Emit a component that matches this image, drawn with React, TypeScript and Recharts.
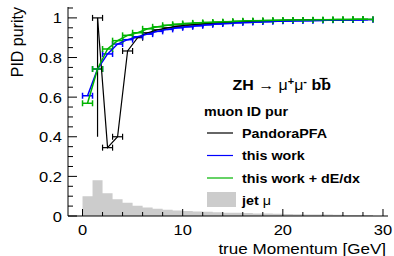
import { Area, ComposedChart, ErrorBar, Scatter, XAxis, YAxis } from "recharts";

const W = 394;
const H = 256;
const FONT = '"Liberation Sans", Arial, Helvetica, sans-serif';
const STRETCH = 1.1;

// jet muon spectrum (1 GeV bins, low edges)
const HIST_EDGES = [0, 1, 2, 3, 4, 5, 6, 7, 8, 9, 10, 11, 12, 13, 14, 15, 16, 17, 18, 19, 20, 21, 22, 23, 24, 25, 26, 27, 28, 29];
const HIST_VALUES = [
  0.1, 0.18, 0.115, 0.085, 0.067, 0.052, 0.043, 0.036, 0.031, 0.028, 0.025, 0.023, 0.021, 0.019, 0.017,
  0.016, 0.015, 0.013, 0.012, 0.011, 0.01, 0.009, 0.008, 0.0075, 0.007, 0.006, 0.0055, 0.005, 0.0045, 0,
];

const BIN_CENTERS = [
  0.5, 1.5, 2.5, 3.5, 4.5, 5.5, 6.5, 7.5, 8.5, 9.5, 10.5, 11.5, 12.5, 13.5, 14.5, 15.5, 16.5, 17.5, 18.5, 19.5,
  20.5, 21.5, 22.5, 23.5, 24.5, 25.5, 26.5, 27.5, 28.5,
];
const PANDORA = [
  null, 1.0, 0.345, 0.4, 0.833, 0.9, 0.925, 0.94, 0.95, 0.958, 0.964, 0.968, 0.972, 0.975, 0.978, 0.98, 0.982,
  0.984, 0.985, 0.986, 0.987, 0.988, 0.989, 0.99, 0.99, 0.991, 0.991, 0.992, 0.992,
];
const THIS_WORK = [
  0.607, 0.742, 0.818, 0.868, 0.89, 0.905, 0.918, 0.932, 0.942, 0.95, 0.955, 0.96, 0.965, 0.969, 0.972, 0.975,
  0.977, 0.979, 0.981, 0.983, 0.984, 0.985, 0.986, 0.987, 0.988, 0.989, 0.99, 0.99, 0.991,
];
const THIS_WORK_DEDX = [
  0.569, 0.742, 0.843, 0.885, 0.912, 0.925, 0.945, 0.955, 0.963, 0.968, 0.972, 0.975, 0.977, 0.979, 0.981, 0.983,
  0.985, 0.986, 0.987, 0.988, 0.989, 0.99, 0.99, 0.991, 0.991, 0.992, 0.992, 0.993, 0.993,
];
// PandoraPFA first filled bin: large downward error
const PANDORA_YERR = [{ x: 1.5, y: 1.0, ey: [0.6, 0] }];

const X_DOMAIN = [-1.45, 30.5];
const Y_DOMAIN = [0, 1.055];
const X_TICKS = [0, 2, 4, 6, 8, 10, 12, 14, 16, 18, 20, 22, 24, 26, 28, 30];
const Y_TICKS = [
  0, 0.05, 0.1, 0.15, 0.2, 0.25, 0.3, 0.35, 0.4, 0.45, 0.5, 0.55, 0.6, 0.65, 0.7, 0.75, 0.8, 0.85, 0.9, 0.95, 1,
  1.05,
];

const histRows = HIST_EDGES.map((x, i) => ({ x, y: HIST_VALUES[i] }));
const toRows = (vals: (number | null)[]) =>
  BIN_CENTERS.map((x, i) => ({ x, y: vals[i], ex: 0.5 })).filter((r) => r.y != null);

const isMajorX = (v: number) => v % 10 === 0;
const isMajorY = (v: number) => Math.abs(v * 5 - Math.round(v * 5)) < 1e-6;

function BottomTick({ x, y, payload }: any) {
  const major = isMajorX(payload.value);
  return (
    <g>
      <line x1={x} x2={x} y1={y} y2={y - (major ? 7 : 4)} stroke="#000" />
      {major && (
        <text transform={`translate(${x},${y + 19}) scale(${STRETCH},1)`} textAnchor="middle" fontSize={15} fill="#000">
          {payload.value}
        </text>
      )}
    </g>
  );
}

function TopTick({ x, y, payload }: any) {
  const major = isMajorX(payload.value);
  return <line x1={x} x2={x} y1={y} y2={y + (major ? 7 : 4)} stroke="#000" />;
}

function LeftTick({ x, y, payload }: any) {
  const major = isMajorY(payload.value);
  return (
    <g>
      <line x1={x} x2={x + (major ? 9 : 5)} y1={y} y2={y} stroke="#000" />
      {major && payload.value <= 1 && (
        <text transform={`translate(${x - 6},${y + 5.5}) scale(${STRETCH},1)`} textAnchor="end" fontSize={15} fill="#000">
          {payload.value}
        </text>
      )}
    </g>
  );
}

function RightTick({ x, y, payload }: any) {
  const major = isMajorY(payload.value);
  return <line x1={x} x2={x - (major ? 9 : 5)} y1={y} y2={y} stroke="#000" />;
}

const noShape = () => <g />;

const LEGEND = [
  { label: "PandoraPFA", color: "#000000" },
  { label: "this work", color: "#0000ff" },
  { label: "this work + dE/dx", color: "#00b400" },
];

export default function App() {
  return (
    <div style={{ position: "absolute", left: 0, top: 0, width: W, height: H, fontFamily: FONT, background: "#fff" }}>
      <ComposedChart width={W} height={H} data={histRows} margin={{ top: 7, right: 6, bottom: 0, left: 0 }}>
        <XAxis
          dataKey="x"
          type="number"
          domain={X_DOMAIN}
          ticks={X_TICKS}
          interval={0}
          allowDataOverflow
          height={40}
          tickLine={false}
          tickSize={0}
          tickMargin={0}
          axisLine={{ stroke: "#000" }}
          tick={(p: any) => <BottomTick {...p} />}
        />
        <XAxis
          xAxisId="t"
          orientation="top"
          type="number"
          domain={X_DOMAIN}
          ticks={X_TICKS}
          interval={0}
          allowDataOverflow
          height={0}
          tickLine={false}
          tickSize={0}
          tickMargin={0}
          axisLine={{ stroke: "#000" }}
          tick={(p: any) => <TopTick {...p} />}
        />
        <YAxis
          dataKey="y"
          type="number"
          domain={Y_DOMAIN}
          ticks={Y_TICKS}
          interval={0}
          allowDataOverflow
          width={68}
          tickLine={false}
          tickSize={0}
          tickMargin={0}
          axisLine={{ stroke: "#000" }}
          tick={(p: any) => <LeftTick {...p} />}
        />
        <YAxis
          yAxisId="r"
          orientation="right"
          type="number"
          domain={Y_DOMAIN}
          ticks={Y_TICKS}
          interval={0}
          allowDataOverflow
          width={0}
          tickLine={false}
          tickSize={0}
          tickMargin={0}
          axisLine={{ stroke: "#000" }}
          tick={(p: any) => <RightTick {...p} />}
        />
        <Area
          dataKey="y"
          type="stepAfter"
          fill="#cccccc"
          fillOpacity={1}
          stroke="none"
          isAnimationActive={false}
        />
        <Scatter data={PANDORA_YERR} shape={noShape} fill="#000" isAnimationActive={false}>
          <ErrorBar dataKey="ey" direction="y" width={0} stroke="#000" strokeWidth={1.2} />
        </Scatter>
        <Scatter
          data={toRows(PANDORA)}
          shape={noShape}
          fill="#000"
          line={{ stroke: "#000", strokeWidth: 1.2 }}
          isAnimationActive={false}
        >
          <ErrorBar dataKey="ex" direction="x" width={3} stroke="#000" strokeWidth={1.2} />
        </Scatter>
        <Scatter
          data={toRows(THIS_WORK)}
          shape={noShape}
          fill="#0000ff"
          line={{ stroke: "#0000ff", strokeWidth: 1.5 }}
          isAnimationActive={false}
        >
          <ErrorBar dataKey="ex" direction="x" width={3} stroke="#0000ff" strokeWidth={1.5} />
        </Scatter>
        <Scatter
          data={toRows(THIS_WORK_DEDX)}
          shape={noShape}
          fill="#00b400"
          line={{ stroke: "#00b400", strokeWidth: 1.5 }}
          isAnimationActive={false}
        >
          <ErrorBar dataKey="ex" direction="x" width={3} stroke="#00b400" strokeWidth={1.5} />
        </Scatter>
      </ComposedChart>
      <svg
        width={W}
        height={H}
        style={{ position: "absolute", left: 0, top: 0, pointerEvents: "none", fontFamily: FONT }}
      >
        <text transform="translate(23,7) rotate(-90)" textAnchor="end" fontSize={16} fill="#000">
          PID purity
        </text>
        <text transform={`translate(386,254) scale(${STRETCH},1)`} textAnchor="end" fontSize={15.5} fill="#000">
          true Momentum [GeV]
        </text>
        <text transform={`translate(232.5,90) scale(${STRETCH},1)`} fontSize={14.5} fontWeight="bold" fill="#000">
          ZH
          <tspan fontWeight="normal"> → μ</tspan>
          <tspan fontSize={10} dy={-5}>+</tspan>
          <tspan fontWeight="normal" dy={5}>μ</tspan>
          <tspan fontSize={10} dy={-5}>-</tspan>
          <tspan dy={5}> bb</tspan>
        </text>
        <line x1={319.5} x2={327.5} y1={78.5} y2={78.5} stroke="#000" strokeWidth={1.2} />
        <text transform={`translate(204,116) scale(${STRETCH},1)`} fontSize={13} fontWeight="bold" fill="#000">
          muon ID pur
        </text>
        {LEGEND.map((l, i) => (
          <g key={l.label}>
            <line x1={207} x2={233} y1={133 + i * 22.5} y2={133 + i * 22.5} stroke={l.color} strokeWidth={1.2} />
            <text
              transform={`translate(242,${137.5 + i * 22.5}) scale(${STRETCH},1)`}
              fontSize={13}
              fontWeight="bold"
              fill="#000"
            >
              {l.label}
            </text>
          </g>
        ))}
        <rect x={207} y={192} width={29} height={15} fill="#cccccc" />
        <text transform={`translate(242,205) scale(${STRETCH},1)`} fontSize={13} fontWeight="bold" fill="#000">
          jet <tspan fontWeight="normal">μ</tspan>
        </text>
      </svg>
    </div>
  );
}
